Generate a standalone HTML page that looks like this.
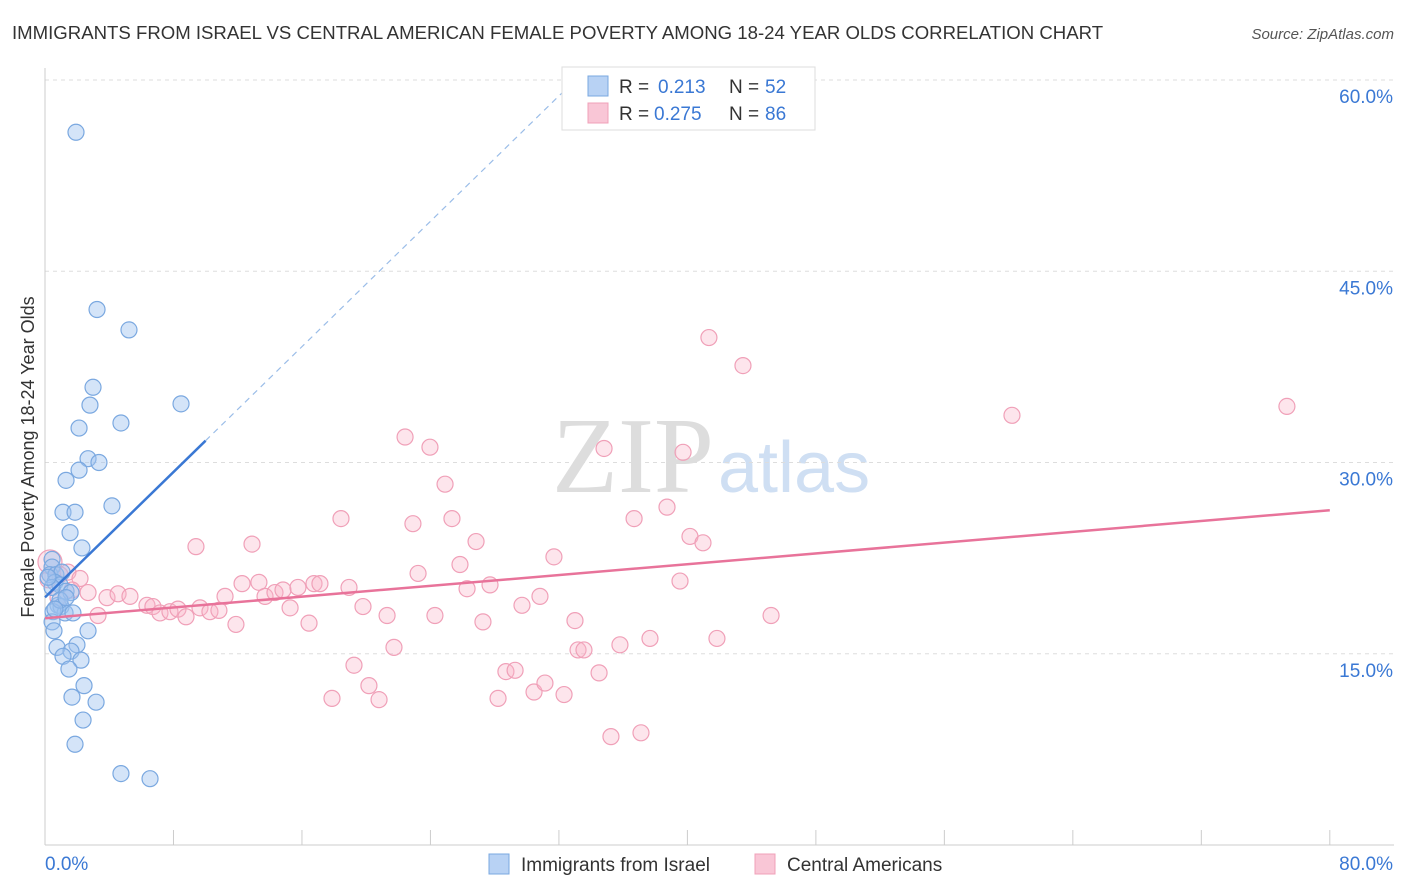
<!DOCTYPE html>
<html><head><meta charset="utf-8"><style>
body{margin:0;background:#fff;font-family:"Liberation Sans",sans-serif;}
#wrap{position:relative;width:1406px;height:892px;overflow:hidden;}
</style></head><body>
<div id="wrap">
<svg id="chart" width="1406" height="892" xmlns="http://www.w3.org/2000/svg">
<text x="12" y="39" font-size="18.6" fill="#333">IMMIGRANTS FROM ISRAEL VS CENTRAL AMERICAN FEMALE POVERTY AMONG 18-24 YEAR OLDS CORRELATION CHART</text>
<text x="1394" y="39" font-size="15" fill="#555" font-style="italic" text-anchor="end">Source: ZipAtlas.com</text>
<text x="34" y="457" font-size="18" fill="#333" text-anchor="middle" transform="rotate(-90 34 457)">Female Poverty Among 18-24 Year Olds</text>
<text x="714" y="492" font-size="108" fill="#ddd" text-anchor="end" font-family="Liberation Serif,serif">ZIP</text>
<text x="718" y="492" font-size="72" fill="#cfdff3">atlas</text>
<g id="grid"></g><g id="marks"></g>
<g>
<rect x="562" y="67" width="253" height="63" fill="#fff" stroke="#ddd"/>
<rect x="588" y="76" width="20" height="20" fill="#b8d2f4" stroke="#7aa8e0"/>
<rect x="588" y="103" width="20" height="20" fill="#f9c6d6" stroke="#f0a0b8"/>
<text y="93" font-size="19" fill="#333"><tspan x="619">R =</tspan><tspan x="658" fill="#3a78d4">0.213</tspan><tspan x="729">N =</tspan><tspan x="765" fill="#3a78d4">52</tspan></text>
<text y="120" font-size="19" fill="#333"><tspan x="619">R =</tspan><tspan x="654" fill="#3a78d4">0.275</tspan><tspan x="729">N =</tspan><tspan x="765" fill="#3a78d4">86</tspan></text>
</g>
<g>
<rect x="489" y="854" width="20" height="20" fill="#b8d2f4" stroke="#7aa8e0"/>
<text x="521" y="871" font-size="19" fill="#333">Immigrants from Israel</text>
<rect x="755" y="854" width="20" height="20" fill="#f9c6d6" stroke="#f0a0b8"/>
<text x="787" y="871" font-size="19" fill="#333">Central Americans</text>
</g>
</svg>
</div>
<script>
const yTicks=[15,30,45,60];
const xTickLabels=["0.0%","80.0%"];
const blueX=[1.93,3.24,5.23,2.99,2.8,8.47,4.73,2.12,2.68,3.36,2.12,1.31,4.17,1.12,1.87,1.56,2.3,0.44,0.44,0.31,0.68,1.06,0.62,0.93,1.31,1.62,0.81,1,1.25,1.74,0.5,0.44,2.68,0.56,1.99,0.75,1.62,1.12,2.24,1.49,2.43,1.68,3.18,2.37,1.87,4.73,6.54,0.44,0.19,0.93,0.62,1.31];
const blueY=[55.9,42,40.4,35.9,34.5,34.6,33.1,32.7,30.3,30,29.4,28.6,26.6,26.1,26.1,24.5,23.3,22.4,21.8,21.2,21.2,21.4,20.6,20.4,19.9,19.8,18.8,18.7,18.2,18.2,18.3,17.5,16.8,16.8,15.7,15.5,15.2,14.8,14.5,13.8,12.5,11.6,11.2,9.8,7.9,5.6,5.2,20.2,21,19.2,18.5,19.4];
const pinkX=[0.31,0.19,0.93,1.43,2.18,1.68,2.68,3.3,3.86,4.55,5.29,6.35,6.72,7.16,7.78,8.28,8.78,9.4,9.65,10.27,10.83,11.21,11.89,12.27,12.89,13.32,13.7,14.32,14.82,15.26,15.75,16.44,16.75,17.12,17.87,18.43,18.93,19.24,19.8,20.17,20.8,21.3,21.73,22.42,22.91,23.23,23.97,24.28,24.91,25.34,25.84,26.28,26.84,27.27,27.71,28.21,28.7,29.27,29.7,30.45,30.82,31.13,31.69,32.32,33,33.19,33.56,34.5,34.81,35.24,35.8,36.68,37.11,37.67,38.73,39.54,39.73,40.16,40.97,41.34,41.84,43.46,45.21,60.21,77.33,0.81];
const pinkY=[22.2,20.8,21.2,21.4,20.9,20,19.8,18,19.4,19.7,19.5,18.8,18.7,18.2,18.3,18.5,17.9,23.4,18.6,18.3,18.4,19.5,17.3,20.5,23.6,20.6,19.5,19.8,20,18.6,20.2,17.4,20.5,20.5,11.5,25.6,20.2,14.1,18.7,12.5,11.4,18,15.5,32,25.2,21.3,31.2,18,28.3,25.6,22,20.1,23.8,17.5,20.4,11.5,13.6,13.7,18.8,12,19.5,12.7,22.6,11.8,17.6,15.3,15.3,13.5,31.1,8.5,15.7,25.6,8.8,16.2,26.5,20.7,30.8,24.2,23.7,39.8,16.2,37.6,18,33.7,34.4,19.4];
const X=v=>45+v*16.06, Y=v=>845-v*12.75;
const NS="http://www.w3.org/2000/svg";
function mk(t,a,p){const e=document.createElementNS(NS,t);for(const k in a)e.setAttribute(k,a[k]);p.appendChild(e);return e;}
const g=document.getElementById('grid'), m=document.getElementById('marks');
yTicks.forEach(t=>{
 const l=mk('line',{x1:45,x2:1394,y1:Y(t),y2:Y(t),stroke:'#ddd','stroke-dasharray':'4,4'},g);
 
 
 const tx=mk('text',{x:1393,y:Y(t)+23,'font-size':19,fill:'#3a78d4','text-anchor':'end'},g);
 tx.textContent=t.toFixed(1)+'%';
 
 
});
mk('line',{x1:45,x2:45,y1:68,y2:845,stroke:'#ccc'},g);
mk('line',{x1:45,x2:1394,y1:845,y2:845,stroke:'#ccc'},g);
for(let i=0;i<=10;i++){const l=mk('line',{x1:X(i*8),x2:X(i*8),y1:830,y2:845,stroke:'#ccc'},g);
 
 }
const xl0=mk('text',{x:45,y:870,'font-size':19,fill:'#3a78d4'},g);xl0.textContent=xTickLabels[0];


const xl1=mk('text',{x:1393,y:870,'font-size':19,fill:'#3a78d4','text-anchor':'end'},g);xl1.textContent=xTickLabels[1];


pinkX.forEach((v,i)=>{const c=mk('circle',{cx:X(v),cy:Y(pinkY[i]),r:i==0?12:8,fill:'rgba(248,180,200,0.35)',stroke:'#f0a0b8','stroke-width':1.2},m);
 
 });
blueX.forEach((v,i)=>{const c=mk('circle',{cx:X(v),cy:Y(blueY[i]),r:8,fill:'rgba(160,196,240,0.45)',stroke:'#7aa8e0','stroke-width':1.2},m);
 
 });
function fit(xs,ys){const n=xs.length;let mx=0,my=0;xs.forEach((v,i)=>{mx+=v;my+=ys[i]});mx/=n;my/=n;let sxy=0,sxx=0;xs.forEach((v,i)=>{sxy+=(v-mx)*(ys[i]-my);sxx+=(v-mx)**2});const b=sxy/sxx;return [my-b*mx,b];}
const [pa,pb]=fit(pinkX,pinkY);
const pl=mk('line',{x1:X(0),y1:Y(pa),x2:X(80),y2:Y(pa+pb*80),stroke:'#e8739a','stroke-width':2.5},m);


const [ba,bb]=fit(blueX,blueY);
const bl=mk('line',{x1:X(0),y1:Y(ba),x2:X(10),y2:Y(ba+bb*10),stroke:'#3a78d4','stroke-width':2.5},m);


const xe=(60-ba)/bb;
const bd=mk('line',{x1:X(10),y1:Y(ba+bb*10),x2:X(xe),y2:Y(60),stroke:'#9bbde8','stroke-width':1.2,'stroke-dasharray':'6,5'},m);


</script>
</body></html>
